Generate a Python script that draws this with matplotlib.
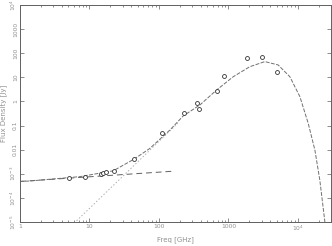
import matplotlib
matplotlib.use("Agg")
import matplotlib.pyplot as plt
import numpy as np

# Observed points (GHz, Jy)
obs_freq = [5.1, 8.6, 14.6, 15.6, 17.3, 22.5, 43.7, 112, 229, 349, 373, 676, 861, 1865, 3000, 4940]
obs_flux = [6.5e-4, 7.6e-4, 9.8e-4, 1.07e-3, 1.2e-3, 1.32e-3, 4.0e-3, 4.8e-2, 0.34, 0.89, 0.47, 2.75, 11.2, 64.6, 67.6, 16.6]

# Total model curve
tot_freq = [1, 1.39, 7.3, 22, 43.7, 74, 144, 224, 389, 676, 1172, 2037, 3350, 5210, 7680, 10700, 14100, 17600, 20700, 24500]
tot_flux = [4.8e-4, 5.0e-4, 7.6e-4, 1.32e-3, 4.0e-3, 1.12e-2, 6.5e-2, 0.25, 0.71, 2.95, 10.5, 27.5, 44.7, 32.4, 10.5, 1.57, 0.123, 9.5e-3, 5.5e-4, 1.0e-5]

# Synchrotron component
syn_freq = [1, 170]
syn_flux = [4.8e-4, 1.29e-3]

# Dust power-law component
dust_freq = [6.54, 188]
dust_flux = [1.12e-5, 0.126]

fig = plt.figure(figsize=(3.32, 2.46), dpi=100)
ax = fig.add_axes([0.060, 0.0976, 0.937, 0.8824])
ax.set_xscale("log")
ax.set_yscale("log")
ax.set_xlim(1, 3e4)
ax.set_ylim(1e-5, 1e4)

ax.plot(dust_freq, dust_flux, color="#b0b0b0", lw=0.7, ls=(0, (1.5, 2)))
ax.plot(syn_freq, syn_flux, color="#606060", lw=0.7, ls=(0, (6, 4)))
ax.plot(tot_freq, tot_flux, color="#707070", lw=0.7, ls=(0, (4, 1.5)))
ax.plot(obs_freq, obs_flux, ls="none", marker="o", ms=2.8, mfc="white",
        mec="#303030", mew=0.6)

xt = [1, 10, 100, 1000, 1e4]
xtl = ["1", "10", "100", "1000", r"$10^4$"]
yt = [1e-5, 1e-4, 1e-3, 1e-2, 1e-1, 1, 10, 100, 1000, 1e4]
ytl = [r"$10^{-5}$", r"$10^{-4}$", r"$10^{-3}$", "0.01", "0.1", "1", "10", "100", "1000", r"$10^{4}$"]
ax.set_xticks(xt)
ax.set_xticklabels(xtl)
ax.set_yticks(yt)
ax.set_yticklabels(ytl, rotation=90, va="center")

ax.tick_params(which="both", direction="in", top=True, right=True,
               labelsize=4.3, labelcolor="#909090", color="#606060", width=0.5, pad=1.5)
ax.tick_params(which="major", length=3)
ax.tick_params(which="minor", length=1.5)
for s in ax.spines.values():
    s.set_color("#606060")
    s.set_linewidth(0.7)

ax.set_xlabel("Freq [GHz]", fontsize=5, color="#909090")
ax.set_ylabel("Flux Density [Jy]", fontsize=5, color="#909090")
ax.xaxis.set_label_coords(0.5, -0.066)
ax.yaxis.set_label_coords(-0.043, 0.5)

fig.savefig("out.png", dpi=100)
